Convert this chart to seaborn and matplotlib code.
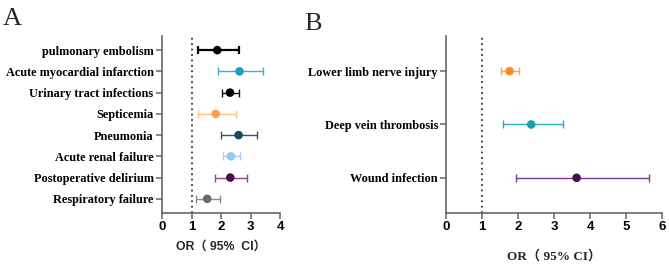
import numpy as np
import pandas as pd
import matplotlib
matplotlib.use("Agg")
import matplotlib.pyplot as plt
import seaborn as sns

sns.set_theme(style="ticks")

# Panel A data
cats_a = ["pulmonary embolism", "Acute myocardial infarction", "Urinary tract infections",
          "Septicemia", "Pneumonia", "Acute renal failure", "Postoperative delirium",
          "Respiratory failure"]
or_a = [1.87, 2.62, 2.30, 1.82, 2.59, 2.33, 2.31, 1.53]
lo_a = [1.22, 1.91, 2.03, 1.21, 1.99, 2.05, 1.81, 1.14]
hi_a = [2.62, 3.40, 2.62, 2.52, 3.22, 2.63, 2.86, 1.95]
mk_a = ["#000000", "#1a9fc0", "#000000", "#ffa04a", "#17495a", "#99c4f6", "#4d0a48", "#6a6a6a"]
ln_a = ["#000000", "#3aaecb", "#111111", "#ffbf80", "#2a5a68", "#a8ccf6", "#8a4a84", "#8c8c8c"]
lw_a = [1.6, 1.0, 1.0, 1.0, 1.0, 1.0, 1.0, 1.0]

# Panel B data
cats_b = ["Lower limb nerve injury", "Deep vein thrombosis", "Wound infection"]
or_b = [1.76, 2.36, 3.62]
lo_b = [1.52, 1.59, 1.95]
hi_b = [2.02, 3.23, 5.62]
mk_b = ["#ff8c1a", "#1aa0b2", "#4a0a5a"]
ln_b = ["#ffa550", "#2aaac4", "#7a3a96"]

fig = plt.figure(figsize=(6.69, 2.64), dpi=100)
axA = fig.add_axes([0.242, 0.193, 0.177, 0.671])
axB = fig.add_axes([0.667, 0.193, 0.323, 0.671])

spine_c = "#666666"
serif = ["Liberation Serif", "Noto Sans CJK SC", "DejaVu Serif"]
sans = ["Liberation Sans", "Noto Sans CJK SC", "DejaVu Sans"]


def draw(ax, cats, ors, los, his, mks, lns, lws, xmax, ypad, xlabel_font, xlabel_text,
         xl_size, xl_pad):
    pos = np.arange(len(cats))
    df = pd.DataFrame({"cat": cats, "y": pos, "or": ors})
    for i in range(len(cats)):
        ax.errorbar([ors[i]], [pos[i]],
                    xerr=[[ors[i] - los[i]], [his[i] - ors[i]]],
                    fmt="none", ecolor=lns[i], elinewidth=lws[i], capsize=3,
                    capthick=lws[i], zorder=2)
    sns.scatterplot(data=df, x="or", y="y", hue="cat", palette=dict(zip(cats, mks)),
                    s=38, edgecolor="none", legend=False, ax=ax, zorder=3)
    ax.axvline(1, color="#333333", linestyle=(0, (1, 2)), linewidth=1.3, zorder=1)
    ax.set_xlim(0, xmax)
    ax.set_ylim(len(cats) - 1 + ypad, -ypad)
    ax.set_xticks(range(0, xmax + 1))
    ax.set_yticks(pos)
    ax.set_yticklabels(cats, fontfamily=["Liberation Serif", "DejaVu Serif"],
                       fontweight="bold", fontsize=8.8)
    for lab in ax.get_xticklabels():
        lab.set_fontfamily(["Liberation Sans", "DejaVu Sans"])
        lab.set_fontweight("bold")
        lab.set_fontsize(9.5)
    ax.set_ylabel("")
    ax.set_xlabel(xlabel_text, fontfamily=xlabel_font, fontweight="bold", fontsize=xl_size,
                  labelpad=xl_pad)
    for s in ["top", "right"]:
        ax.spines[s].set_visible(False)
    for s in ["left", "bottom"]:
        ax.spines[s].set_color(spine_c)
        ax.spines[s].set_linewidth(1.2)
    ax.tick_params(axis="both", colors=spine_c, length=4, width=1.1, labelcolor="black")
    ax.tick_params(axis="y", pad=2)
    ax.tick_params(axis="x", pad=2)


draw(axA, cats_a, or_a, lo_a, hi_a, mk_a, ln_a, lw_a, 4, 0.67, sans, "OR\uff08 95%  CI\uff09",
     8.8, 5)
draw(axB, cats_b, or_b, lo_b, hi_b, mk_b, ln_b, [1.0] * 3, 6, 0.66, serif, "OR\uff08 95% CI\uff09",
     9.5, 12)

fig.text(0.004, 0.905, "A", fontfamily=serif, fontsize=19)
fig.text(0.455, 0.885, "B", fontfamily=serif, fontsize=19)

fig.savefig("out.png", dpi=100)
